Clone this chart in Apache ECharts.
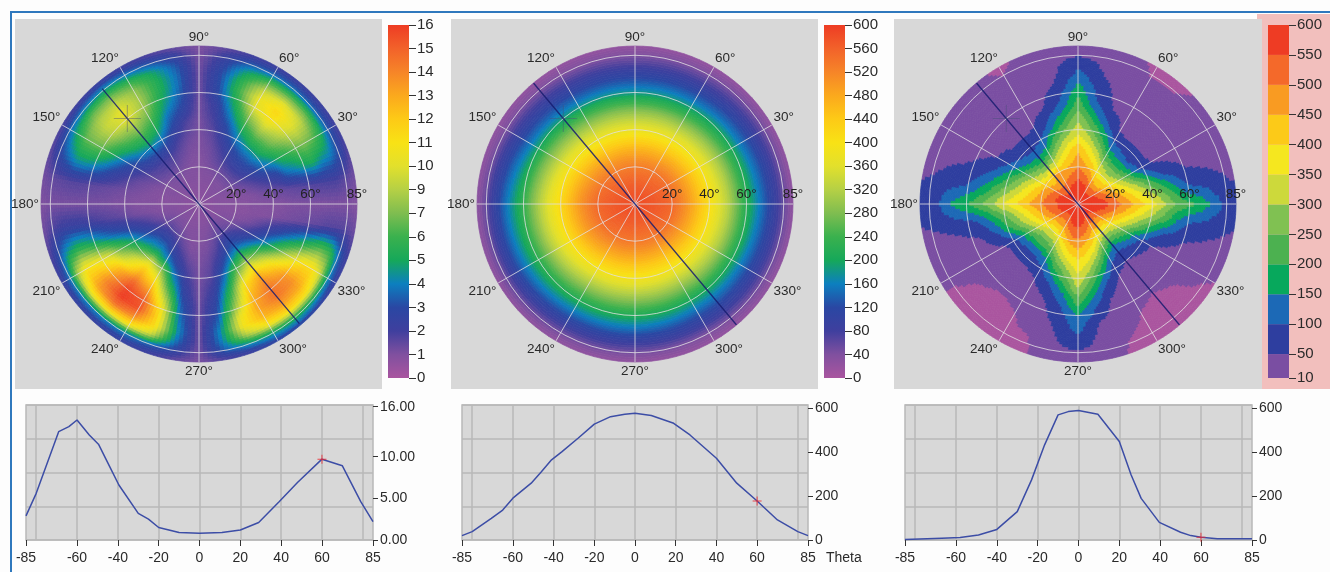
<!DOCTYPE html>
<html><head><meta charset="utf-8">
<style>html,body{margin:0;padding:0;background:#fdfdfd}#c{width:1330px;height:572px;filter:blur(.45px)}</style>
<script src="https://cdn.jsdelivr.net/npm/echarts@6/dist/echarts.min.js"></script>
</head><body><div id="c"></div>
<script>
// ---- polar grid nodes
var thetaNodes=[0,5,10,15,20,25,30,35,40,45,50,55,60,65,70,75,80,85];
var phiNodes10=[0,10,20,30,40,50,60,70,80,90,100,110,120,130,140,150,160,170,180,190,200,210,220,230,240,250,260,270,280,290,300,310,320,330,340,350];
var phiNodes30=[0,30,60,90,120,150,180,210,240,270,300,330];
// ---- left map: one row per theta, one column per phi
var mapLeft=[
[.8,.8,.8,.8,.8,.8,.8,.8,.8,.8, .8,.8,.8,.8,.8,.8,.8,.8, .8,.8,.8,.8,.8,.8,.8,.8,.8, .8,.8,.8,.8,.8,.8,.8,.8,.8],
[.8,.8,.8,.8,.9,.9,.8,.8,.8,.8, .8,.8,.8,.9,.9,.8,.8,.8, .8,.8,.8,.9,.9,.9,.8,.8,.8, .8,.8,.8,.9,.9,.9,.8,.8,.8],
[.9,.9,.9,.9,1,1,.9,.9,.9,.9, .9,.9,.9,1,1,.9,.9,.9, .9,.9,.9,1,1,1,.9,.9,.9, .9,.9,.9,1,1,1,.9,.9,.9],
[.9,.9,1,1.1,1.1,1.1,1.1,1,1,.9, 1,1,1,1.1,1.1,1,1,.9, .9,1,1.1,1.2,1.2,1.2,1.1,1,1, 1,1,1.1,1.3,1.3,1.2,1.1,1,.9],
[.9,1,1.1,1.3,1.4,1.4,1.3,1.2,1.1,1, 1,1.1,1.2,1.2,1.2,1.1,1,.9, .9,1,1.2,1.5,1.8,1.7,1.5,1.2,1, 1,1.1,1.3,1.6,1.7,1.5,1.2,1,.9],
[.9,1,1.3,1.7,2,2,1.8,1.5,1.2,1, 1.1,1.3,1.6,1.7,1.6,1.4,1.1,1, 1,1.1,1.5,2.2,2.7,2.8,2.2,1.6,1.1, 1.1,1.2,1.6,2.4,3,2.4,1.6,1.1,.9],
[1,1.1,1.6,2.3,2.8,2.8,2.4,1.8,1.3,1.1, 1.2,1.6,2,2.1,2,1.7,1.3,1.1, 1,1.2,2,3,3.8,4,3.2,2.2,1.4, 1.1,1.4,2.1,3.2,3.8,3.2,2.2,1.3,1],
[1,1.3,2,3,3.6,3.6,3.1,2.2,1.5,1.1, 1.4,2,2.9,3.2,2.9,2.2,1.5,1.2, 1,1.3,2.5,3.8,5,5.6,4.6,3,1.8, 1.2,1.6,2.8,4.6,5.8,4.6,3,1.8,1],
[1,1.4,2.4,3.9,4.8,4.8,4.1,2.8,1.7,1.2, 1.7,2.6,4,4.6,4,2.9,1.9,1.3, 1.1,1.5,3,5,7,9,7.5,4.2,2.2, 1.2,1.8,3.8,6.6,8.2,6.6,4,2.4,1.1],
[1,1.5,2.8,4.6,6,6.2,5.2,3.4,2,1.2, 2,3.4,5.2,5.9,5.2,3.7,2.4,1.4, 1.1,1.7,3.4,6.2,9,11.4,9.8,5.5,2.6, 1.3,2.2,4.8,8.6,10.6,8.6,5.4,3,1.2],
[1.1,1.6,3.9,5.6,7.2,7.8,6.6,4.3,2.3,1.3, 2.7,4,6.2,7.2,6.4,4.8,3,1.5, 1.2,1.8,3.8,7.4,10.2,13,11.8,7.2,3, 1.3,2.6,6,11,12.6,10.6,7,3.8,1.3],
[1.1,1.7,4.4,6.2,8.2,9.4,8,5.2,2.6,1.3, 3.2,4.8,7.2,8.4,7.6,6,3.8,1.6, 1.2,2,4.4,9,12.4,14.8,13.6,9,3.6, 1.4,3,7.2,12,13.8,12.2,8.6,4.6,1.4],
[1.1,1.8,5,7,9.2,10.8,9.6,6,3.2,1.4, 3.6,5.4,8,9.7,8.8,7,4.4,1.7, 1.2,2.2,5,9.8,13.2,15.8,15.2,10.6,4, 1.4,3.4,8.4,12.8,14.4,13.4,10,5.4,1.5],
[1.1,1.9,5.4,7.4,9.6,11.2,10,6.6,3.4,1.4, 3.9,5.8,8.2,9.8,9,7.2,4.8,1.8, 1.2,2.4,5.5,10.4,13.8,16,15.4,11.2,4.4, 1.4,4,10,13,14.4,13.6,11,6.2,1.6],
[1.1,2,4.6,7,9,10,9,6.2,3.4,1.4, 3.9,5.8,7.8,8.9,8.4,7,4.8,1.8, 1.2,2.4,5.6,10.6,13.2,14.6,13.6,11,4.8, 1.4,4.6,10.4,12.4,13.2,12.8,11,6.8,1.8],
[1.1,2,4.2,5.8,7,7.2,6.8,5.2,3,1.3, 3.6,5.2,6.4,7.2,7,5.6,3.9,1.7, 1.2,2.3,4.8,8.6,10.4,11,10.6,8.8,4.2, 1.4,4.4,8.4,10.4,11.2,10.8,9.2,6.2,1.8],
[1.1,1.7,3.2,3.6,3.8,4,4,3.6,2.5,1.2, 2.8,3.5,4.2,4.8,4.4,3.8,2.9,1.6, 1.2,1.9,3.4,4.2,4.4,4.4,4.2,3.8,3, 1.3,3.6,4.6,5.2,5.8,5.4,4.6,3.9,1.8],
[1,1.3,1.8,2.1,2.2,2.2,2.2,2,1.6,1.1, 1.5,1.8,2,2.2,2,1.8,1.6,1.3, 1.1,1.3,1.8,2.2,2.4,2.4,2.4,2.2,1.6, 1.2,1.8,2.2,2.8,2.9,2.6,2.2,2,1.4]
];
// ---- centre map: one row per phi (30 degree steps), one column per theta
var mapCentreByPhi=[
[580,578,572,565,555,525,490,450,410,365,325,270,220,175,135,95,58,25],
[580,577,570,560,545,515,478,438,395,352,308,256,205,158,122,85,50,24],
[580,576,566,552,535,505,468,425,380,340,292,240,188,145,110,76,44,22],
[580,575,565,550,530,500,465,420,375,335,290,235,180,140,105,72,42,22],
[580,575,565,550,530,502,465,423,378,338,290,240,183,140,105,74,40,22],
[580,577,568,557,540,512,478,438,395,352,305,258,200,155,118,82,45,24],
[580,578,572,565,555,530,500,460,420,378,335,285,235,190,150,105,60,28],
[580,578,572,562,550,522,490,450,408,365,322,272,225,180,140,98,55,25],
[580,577,568,555,540,510,475,435,392,352,307,260,213,170,128,88,50,24],
[580,576,567,553,535,505,470,430,390,350,305,258,212,170,128,85,48,23],
[580,576,567,553,537,506,470,430,390,346,300,252,200,158,118,82,42,22],
[580,578,570,560,547,515,480,440,398,355,312,260,208,162,124,88,50,23]
];
// ---- right map: one row per phi (10 degree steps), one column per theta
var mapRightByPhi=[
[590,585,575,560,530,487,456,410,370,330,280,240,218,194,162,120,90,70],
[590,580,565,550,500,450,400,350,300,250,200,140,100,88,78,66,54,44],
[590,580,560,512,450,388,325,262,188,125,88,68,50,40,34,30,26,20],
[590,575,550,467,400,317,233,133,80,50,38,30,26,22,20,18,15,12],
[590,570,517,433,350,267,183,100,64,42,32,26,22,19,17,15,13,11],
[590,570,517,433,350,267,183,112,70,44,33,26,21,18,15,13,9,8],
[590,572,533,450,383,300,217,137,88,47,36,28,22,17,14,12,9,8],
[590,578,560,500,438,375,312,238,175,112,75,48,38,30,24,20,16,13],
[590,582,565,525,470,420,380,320,262,210,150,108,88,75,56,45,35,28],
[590,585,572,545,500,468,440,375,335,300,250,220,188,155,115,88,48,40],
[590,582,565,525,472,425,385,325,265,210,155,110,85,58,48,40,34,28],
[590,578,558,505,450,385,322,250,185,118,82,48,38,30,25,20,16,13],
[590,575,545,480,448,330,240,150,100,60,42,32,26,20,16,13,10,8],
[590,572,530,470,447,310,189,120,80,52,35,26,18,15,13,12,12,12],
[590,572,530,465,400,310,220,130,85,55,38,28,22,18,16,15,14,13],
[590,575,548,490,425,345,270,190,125,80,52,38,30,26,22,20,18,16],
[590,578,560,515,460,395,330,265,200,140,100,75,58,48,42,36,32,28],
[590,582,568,530,480,425,380,325,275,225,175,125,100,82,72,62,52,46],
[590,585,558,530,500,465,425,388,356,310,268,230,200,175,150,100,85,72],
[590,582,562,525,470,415,358,300,245,190,135,100,85,74,65,58,52,46],
[590,578,552,500,440,375,310,245,180,115,78,50,40,32,27,24,22,20],
[590,575,545,470,398,320,235,140,82,48,36,28,22,18,14,13,12,12],
[590,572,530,445,360,275,190,108,65,42,30,22,16,12,9,8,7,7],
[590,570,520,440,355,270,190,110,68,44,30,20,13,8,7,6,6,6],
[590,572,535,455,385,300,220,140,90,55,38,25,18,12,8,7,6,6],
[590,578,555,495,430,365,300,230,165,105,70,45,32,24,18,11,8,7],
[590,583,568,530,480,420,365,305,250,195,135,100,78,62,52,44,36,24],
[590,585,570,540,490,450,400,372,342,307,250,208,150,128,105,75,46,38],
[590,582,565,525,470,420,375,320,262,205,150,110,85,50,42,36,30,22],
[590,578,555,500,440,375,300,225,160,105,68,42,30,22,16,12,10,8],
[590,572,535,460,380,290,195,120,72,44,30,20,14,11,9,7,6,6],
[590,575,555,470,350,235,129,80,48,34,23,16,11,9,8,7,6,6],
[590,572,525,440,350,260,170,100,60,40,28,20,14,11,9,8,7,6],
[590,575,545,470,395,310,225,135,85,52,38,30,24,20,16,13,11,10],
[590,580,560,510,445,380,315,250,185,120,88,68,52,44,36,30,26,22],
[590,583,568,550,500,450,395,345,295,245,190,135,100,88,78,68,58,50]
];
// ---- line profiles
var lineTheta1=[-85,-80,-69,-64,-60,-54,-49.5,-44,-39.5,-30,-25,-20,-10,0,11,20,29,39,48,60,70,79,85];
var lineValue1=[2.9,5.6,13,13.6,14.4,12.6,11.5,8.8,6.6,3.2,2.5,1.5,.9,.8,.9,1.2,2.1,4.6,6.9,9.7,8.9,4.6,2.2];
var lineTheta2=[-85,-80,-70.6,-65,-60,-51,-46,-41,-36,-28,-20,-12,-5,0,8,19,27,40,50,60,70,80,85];
var lineValue2=[20,38,98,136,190,258,310,364,400,462,526,560,571,576,565,530,477,371,258,177,91,38,20];
var lineTheta3=[-85,-67,-58,-49,-40,-30,-23,-16.6,-10,-5,0,9.5,20,25.8,30.7,39.6,50,55,60,68,85];
var lineValue3=[2,8,11,23,48,129,273,432,568,583,588,571,447,295,189,80,35,20,12,6,6];
var cursorPoints=[[60,9.7],[60,177],[60,12]];
// ---- scales and labels
var barLabels1=['0','1','2','3','4','5','6','7','9','10','11','12','13','14','15','16'];
var barLabels2=['0','40','80','120','160','200','240','280','320','360','400','440','480','520','560','600'];
var bandEdges=[10,50,100,150,200,250,300,350,400,450,500,550,600];
var bandColors=['#7a4ea2','#2e3e9f','#1c69b6','#07a85c','#4cb150','#80c152','#cdd93b','#f5e71f','#fcca18','#f99b22','#f4692a','#ee3c24'];
var lowColor='#aa559f';
var ramp=['#a9559f','#80509f','#3f3f9e','#2a47a3','#0c7fbf','#16a85a','#3ab14e','#7fbd50','#b5d045','#e2e02c','#f8e215','#fdca16','#fba91d','#f68528','#f2622a','#ee3c24'];
var sliceLine=[[[81,130],[0,130],[84,310]],[[85,130],[0,130],[85,310]],[[85,130],[0,130],[85,310]]];
var cursorPolar=[60,130];
var maxes=[16,600,600], axisTop=[16.2,613,613];
var yTickVals=[[0,5,10,16],[0,200,400,600],[0,200,400,600]];
var yTickFmt=[function(v){return v.toFixed(2)},String,String];
var xTicks=[-85,-60,-40,-20,0,20,40,60,85];
var xSplits=[-80,-60,-40,-20,0,20,40,60,80];
var ringLabels=[20,40,60,85];

function transpose(m){return m[0].map(function(_,i){return m.map(function(r){return r[i]})})}
var fields=[mapLeft,transpose(mapCentreByPhi),transpose(mapRightByPhi)];
var phis=[phiNodes10,phiNodes30,phiNodes10];
function colorOf(k,v){
  if(k<2) return echarts.color.lerp(Math.max(0,Math.min(1,v/maxes[k])),ramp);
  if(v<10) return lowColor;
  for(var b=0;b<bandColors.length;b++) if(v<bandEdges[b+1]) return bandColors[b];
  return bandColors[bandColors.length-1];
}
var txt='#2a2a2a', FONT='"Liberation Sans",Arial,sans-serif';
var centersX=[199,635,1078], barsX=[388,824,1268];
var gridsX=[[26,373],[462,808],[905,1252]];
var polar=[],angleAxis=[],radiusAxis=[],grid=[],xAxis=[],yAxis=[],series=[];
var ringStyle={color:'rgba(226,224,226,.8)',width:1};
centersX.forEach(function(cx,k){
  polar.push({center:[cx,204],radius:158});
  angleAxis.push({polarIndex:k,type:'value',min:0,max:360,interval:30,startAngle:0,clockwise:false,z:6,
    axisLine:{show:false},axisTick:{show:false},minorTick:{show:false},
    splitLine:{show:true,lineStyle:ringStyle},
    axisLabel:{show:true,margin:2,align:'center',verticalAlign:'middle',color:txt,fontFamily:FONT,fontSize:13.5,
      formatter:function(v){return (v===0||v===360)?'':v+'°'}}});
  radiusAxis.push({polarIndex:k,type:'value',min:0,max:85,interval:20,z:6,
    axisLine:{show:false},axisTick:{show:false,customValues:[0,20,40,60,80]},
    splitLine:{show:true,lineStyle:ringStyle},
    axisLabel:{show:true,customValues:ringLabels,inside:true,margin:3,color:'#222',fontFamily:FONT,fontSize:13.5,align:'center',verticalAlign:'bottom',formatter:function(v){return v+'°'}}});
  // map
  (function(k){
    var field=fields[k],ph=phis[k],nP=ph.length,step=ph[1]-ph[0],nA=k===1?10:(k===2?8:6),nR=4;
    var data=[];
    thetaNodes.forEach(function(t,i){ph.forEach(function(p,j){data.push([t,p,field[i][j]])})});
    series.push({type:'custom',coordinateSystem:'polar',polarIndex:k,z:1,silent:true,clip:false,
      encode:{radius:0,angle:1},data:data,animation:false,
      renderItem:function(params,api){
        var idx=params.dataIndex,i=Math.floor(idx/nP),j=idx%nP;
        if(i>=thetaNodes.length-1) return {type:'group',children:[]};
        var t0=thetaNodes[i],t1=thetaNodes[i+1],p0=ph[j],j2=(j+1)%nP;
        var a=field[i][j],b=field[i][j2],c=field[i+1][j],d=field[i+1][j2],kids=[];
        for(var u=0;u<nR;u++)for(var w=0;w<nA;w++){
          var fu=(u+.5)/nR,fw=(w+.5)/nA;
          var v=(a*(1-fw)+b*fw)*(1-fu)+(c*(1-fw)+d*fw)*fu;
          var ra=t0+(t1-t0)*u/nR,rb=t0+(t1-t0)*(u+1)/nR,aa=p0+step*w/nA,ab=p0+step*(w+1)/nA,col=colorOf(k,v);
          kids.push({type:'polygon',shape:{points:[api.coord([ra,aa]),api.coord([ra,ab]),api.coord([rb,ab]),api.coord([rb,aa])]},
            style:{fill:col,stroke:col,lineWidth:.7}});
        }
        return {type:'group',children:kids};
      }});
  })(k);
  // slice line and cursor
  series.push({type:'line',coordinateSystem:'polar',polarIndex:k,z:8,data:sliceLine[k],showSymbol:false,silent:true,animation:false,
    lineStyle:{color:'rgba(22,28,112,.85)',width:1.3}});
  series.push({type:'scatter',coordinateSystem:'polar',polarIndex:k,z:9,data:[cursorPolar],silent:true,animation:false,symbolSize:27,
    symbol:'path://M13,0h1v13h13v1h-13v13h-1v-13h-13v-1h13z',itemStyle:{color:'rgba(70,80,120,.55)'}});
  // line profile panels
  var gx=gridsX[k];
  grid.push({left:gx[0],width:gx[1]-gx[0],top:405,height:135,show:true,backgroundColor:'#d8d8d8',borderColor:'#b8b8b8',borderWidth:1.5});
  xAxis.push({gridIndex:k,type:'value',min:-85,max:85,position:'bottom',
    axisLine:{show:false,onZero:false},splitLine:{show:false},
    axisTick:{show:true,length:6,customValues:xTicks,lineStyle:{color:'#333'}},
    axisLabel:{show:true,customValues:xTicks,margin:11,color:txt,fontFamily:FONT,fontSize:14,hideOverlap:false,showMinLabel:true,showMaxLabel:true}});
  xAxis.push({gridIndex:k,type:'value',min:-85,max:85,position:'bottom',
    axisLine:{show:false,onZero:false},axisLabel:{show:false},axisTick:{show:false,customValues:xSplits},
    splitLine:{show:true,lineStyle:{color:'#b8b8b8',width:1.5}}});
  yAxis.push({gridIndex:k,type:'value',min:0,max:axisTop[k],position:'right',
    axisLine:{show:false,onZero:false},splitLine:{show:false},
    axisTick:{show:true,length:5,customValues:yTickVals[k],lineStyle:{color:'#333'}},
    axisLabel:{show:true,customValues:yTickVals[k],margin:7,color:txt,fontFamily:FONT,fontSize:14,formatter:yTickFmt[k]}});
  yAxis.push({gridIndex:k,type:'value',min:0,max:axisTop[k],interval:axisTop[k]/4,position:'right',
    axisLine:{show:false,onZero:false},axisLabel:{show:false},axisTick:{show:false},
    splitLine:{show:true,lineStyle:{color:'#b8b8b8',width:1.5}}});
});
var profiles=[[lineTheta1,lineValue1],[lineTheta2,lineValue2],[lineTheta3,lineValue3]];
profiles.forEach(function(pr,k){
  series.push({type:'line',xAxisIndex:2*k,yAxisIndex:2*k,z:5,showSymbol:false,silent:true,animation:false,
    data:pr[0].map(function(t,i){return [t,pr[1][i]]}),lineStyle:{color:'#3c4da6',width:1.5}});
  series.push({type:'scatter',xAxisIndex:2*k,yAxisIndex:2*k,z:6,silent:true,animation:false,data:[cursorPoints[k]],symbolSize:9,
    symbol:'path://M4,0h1v4h4v1h-4v4h-1v-4h-4v-1h4z',itemStyle:{color:'#f0242c'}});
});
// colour bars
barsX.forEach(function(bx,k){
  grid.push({left:bx,width:21,top:25,height:353,show:false});
  xAxis.push({gridIndex:3+k,type:'category',data:['scale'],show:false});
  var base=6+k;
  if(k<2){
    var labs=k===0?barLabels1:barLabels2;
    yAxis.push({gridIndex:3+k,type:'value',min:0,max:15,interval:1,position:'right',
      axisLine:{show:false,onZero:false},splitLine:{show:false},axisTick:{show:true,length:7,lineStyle:{color:'#333'}},
      axisLabel:{margin:8,color:txt,fontFamily:FONT,fontSize:15,formatter:(function(l){return function(v){return l[v]}})(labs)}});
    series.push({type:'bar',xAxisIndex:base,yAxisIndex:base,barWidth:'100%',silent:true,animation:false,data:[15],
      itemStyle:{color:new echarts.graphic.LinearGradient(0,1,0,0,ramp.map(function(c,i){return {offset:i/15,color:c}}))}});
  } else {
    yAxis.push({gridIndex:3+k,type:'value',min:10,max:600,position:'right',
      axisLine:{show:false,onZero:false},splitLine:{show:false},axisTick:{show:true,length:7,customValues:bandEdges,lineStyle:{color:'#333'}},
      axisLabel:{customValues:bandEdges,margin:8,color:txt,fontFamily:FONT,fontSize:15}});
    bandColors.forEach(function(c,b){
      series.push({type:'bar',stack:'bands',xAxisIndex:base,yAxisIndex:base,barWidth:'100%',silent:true,animation:false,
        data:[b===0?bandEdges[1]:bandEdges[b+1]-bandEdges[b]],itemStyle:{color:c}});
    });
  }
});
var chart=echarts.init(document.getElementById('c'),null,{renderer:'canvas'});
chart.setOption({animation:false,backgroundColor:'#fdfdfd',
  graphic:{elements:[
    {type:'rect',z:-10,shape:{x:1257,y:14,width:73,height:375},style:{fill:'#f2bfbd'}},
    {type:'rect',z:-9,shape:{x:15,y:19,width:367,height:370},style:{fill:'#d8d8d8'}},
    {type:'rect',z:-9,shape:{x:451,y:19,width:367,height:370},style:{fill:'#d8d8d8'}},
    {type:'rect',z:-9,shape:{x:894,y:19,width:368,height:370},style:{fill:'#d8d8d8'}},
    {type:'rect',z:-8,shape:{x:10,y:11,width:1320,height:2},style:{fill:'#2f78bd'}},
    {type:'rect',z:-8,shape:{x:10,y:11,width:2,height:561},style:{fill:'#2f78bd'}},
    {type:'text',z:5,style:{x:826,y:551,text:'Theta',fill:txt,fontFamily:FONT,fontSize:14}}
  ]},
  polar:polar,angleAxis:angleAxis,radiusAxis:radiusAxis,grid:grid,xAxis:xAxis,yAxis:yAxis,series:series});
</script></body></html>
